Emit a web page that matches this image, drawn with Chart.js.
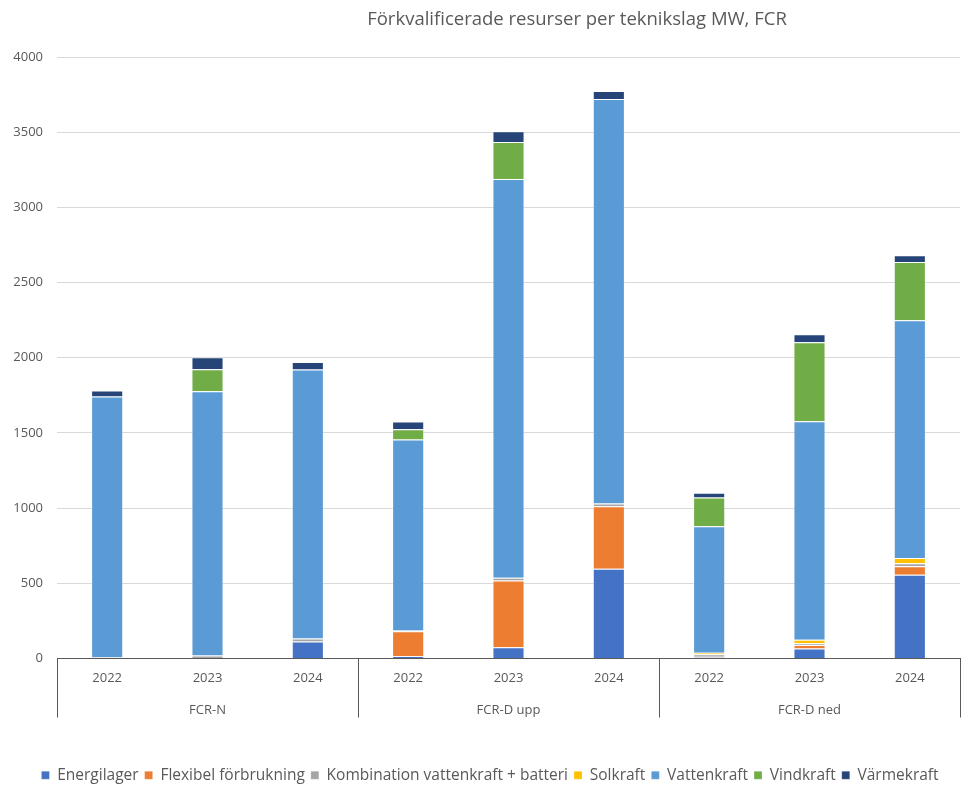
<!DOCTYPE html>
<html>
<head>
<meta charset="utf-8">
<script src="https://cdn.jsdelivr.net/npm/chart.js@4.4.1/dist/chart.umd.min.js"></script>
<style>
    body { margin: 0; background: #fff; }
    #contenedor { width: 961px; height: 785px; }
</style>
</head>
<body>
<div id="contenedor"><canvas id="grafico" width="961" height="785"></canvas></div>
<script>
const anios = ['2022', '2023', '2024', '2022', '2023', '2024', '2022', '2023', '2024'];
const grupos = ['FCR-N', 'FCR-D upp', 'FCR-D ned'];
const ticksY = [0, 500, 1000, 1500, 2000, 2500, 3000, 3500, 4000];

const energilager = [0, 0, 113, 15, 75, 597, 8, 67, 557];
const flexibel = [0, 0, 0, 167, 444, 415, 3, 22, 57];
const kombination = [8, 20, 20, 5, 18, 18, 17, 13, 20];
const solkraft = [0, 0, 0, 0, 0, 0, 10, 22, 34];
const vattenkraft = [1735, 1757, 1789, 1270, 2651, 2690, 841, 1453, 1582];
const vindkraft = [0, 146, 0, 68, 246, 0, 191, 526, 386];
const varmekraft = [40, 80, 50, 51, 73, 54, 33, 53, 46];

const fuente = '"Open Sans", sans-serif';
const gris = '#595959';

function serie(nombre, datos, color) {
    return {
        label: nombre,
        data: datos,
        backgroundColor: color,
        borderColor: 'rgba(255,255,255,0.25)',
        borderWidth: 1,
        barPercentage: 0.32,
        categoryPercentage: 1
    };
}

// titulo y eje de dos niveles dibujados a mano
const ejeGrupos = {
    id: 'ejeGrupos',
    afterLayout(chart) {
        // la leyenda del original esta un poco a la derecha
        chart.legend.left += 10;
        chart.legend.right += 10;
    },
    afterDraw(chart) {
        const ctx = chart.ctx;
        const area = chart.chartArea;
        ctx.save();
        ctx.fillStyle = gris;
        ctx.font = '18.5px ' + fuente;
        ctx.textAlign = 'center';
        ctx.textBaseline = 'middle';
        ctx.fillText('Förkvalificerade resurser per teknikslag MW, FCR', 577, 20);

        const paso = (area.right - area.left) / anios.length;
        ctx.strokeStyle = gris;
        ctx.lineWidth = 1;
        for (let g = 0; g <= grupos.length; g++) {
            const px = Math.round(area.left + g * paso * 3) + 0.5;
            ctx.beginPath();
            ctx.moveTo(px, area.bottom);
            ctx.lineTo(px, area.bottom + 59);
            ctx.stroke();
        }
        ctx.font = '13px ' + fuente;
        grupos.forEach((g, i) => {
            const cx = area.left + (i * 3 + 1.5) * paso;
            ctx.fillText(g, cx, area.bottom + 52);
        });
        ctx.restore();
    }
};

const ctx = document.getElementById('grafico').getContext('2d');
const instanciaGrafico = new Chart(ctx, {
    type: 'bar',
    data: {
        labels: anios,
        datasets: [
            serie('Energilager', energilager, '#4472C4'),
            serie('Flexibel förbrukning', flexibel, '#ED7D31'),
            serie('Kombination vattenkraft + batteri', kombination, '#A5A5A5'),
            serie('Solkraft', solkraft, '#FFC000'),
            serie('Vattenkraft', vattenkraft, '#5B9BD5'),
            serie('Vindkraft', vindkraft, '#70AD47'),
            serie('Värmekraft', varmekraft, '#264478')
        ]
    },
    options: {
        responsive: false,
        animation: false,
        layout: { padding: { top: 57, right: 1, left: 0, bottom: -8 } },
        plugins: {
            title: { display: false },
            tooltip: { enabled: false },
            legend: {
                position: 'bottom',
                labels: {
                    boxWidth: 8,
                    boxHeight: 8,
                    padding: 6,
                    color: gris,
                    font: { family: fuente, size: 15.5 }
                }
            }
        },
        scales: {
            x: {
                stacked: true,
                grid: { display: false },
                border: { display: true, color: gris, width: 1 },
                ticks: { color: gris, font: { family: fuente, size: 13 }, padding: 4, maxRotation: 0 },
                afterFit(scale) { scale.height = 103; }
            },
            y: {
                stacked: true,
                min: 0,
                max: 4000,
                afterBuildTicks(scale) { scale.ticks = ticksY.map(v => ({ value: v })); },
                grid: { color: '#d9d9d9', drawTicks: false },
                border: { display: false },
                ticks: {
                    color: gris,
                    font: { family: fuente, size: 13 },
                    padding: 14,
                    callback: v => String(v)
                },
                afterFit(scale) { scale.width = 57; }
            }
        }
    },
    plugins: [ejeGrupos]
});
</script>
</body>
</html>
